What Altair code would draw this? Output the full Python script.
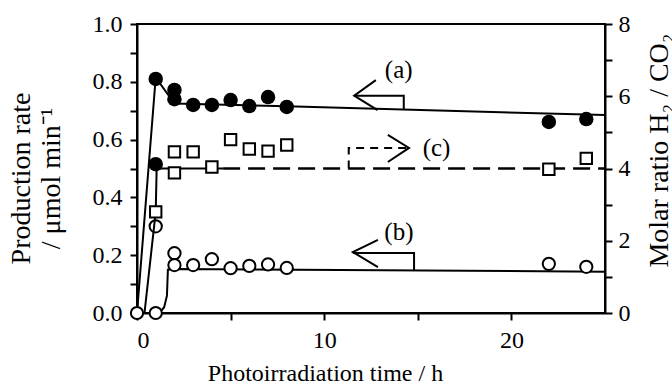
import altair as alt
import pandas as pd

# ---------------- data ----------------
# (a) filled circles: production rate (umol/min), left axis
a_x = [1, 1, 2, 2, 3, 4, 5, 6, 7, 8, 22, 24]
a_y = [0.81, 0.515, 0.772, 0.74, 0.72, 0.72, 0.737, 0.716, 0.747, 0.713, 0.661, 0.671]
# (a) fitted line
a_lx = [0, 1, 2, 8, 25]
a_ly = [0.0, 0.815, 0.725, 0.715, 0.685]

# (b) open circles: production rate, left axis
b_x = [0, 1, 1, 2, 2, 3, 4, 5, 6, 7, 8, 22, 24]
b_y = [0.0, 0.0, 0.30, 0.207, 0.166, 0.166, 0.186, 0.155, 0.163, 0.168, 0.156, 0.17, 0.16]
# (b) fitted line
b_lx = [0, 1.2, 1.45, 1.6, 1.65, 2, 25]
b_ly = [0.0, 0.0, 0.02, 0.06, 0.15, 0.152, 0.143]

# (c) open squares: molar ratio H2/CO2, right axis
c_x = [1, 2, 2, 3, 4, 5, 6, 7, 8, 22, 24]
c_y = [2.8, 4.46, 3.88, 4.46, 4.04, 4.8, 4.54, 4.48, 4.65, 3.98, 4.28]
# (c) line: solid start, dashed tail
c_lx_solid = [0.4, 1, 1.05, 4.6]
c_ly_solid = [0.0, 2.8, 4.0, 4.0]
c_lx_dash = [4.6, 25]
c_ly_dash = [4.0, 4.0]

# annotation arrows (data units)
arrow_a = {"x": [12.76, 11.6, 12.85, None, 11.6, 14.25, 14.25],
           "y": [0.806, 0.752, 0.702, None, 0.752, 0.752, 0.705],
           "seg": [0, 0, 0, None, 1, 1, 1]}
arrow_b = {"x": [12.87, 11.53, 12.87, None, 11.53, 14.8, 14.8],
           "y": [0.253, 0.211, 0.159, None, 0.208, 0.208, 0.149],
           "seg": [0, 0, 0, None, 1, 1, 1]}
arrow_c_solid = {"x": [13.4, 14.53, 13.4], "y": [4.93, 4.57, 4.18]}
arrow_c_dash = {"x": [11.31, 11.31, 14.4], "y": [4.0, 4.57, 4.57]}

labels_left = {"x": [13.98, 13.99], "y": [0.841, 0.280], "t": ["(a)", "(b)"]}
labels_right = {"x": [16.0], "y": [4.57], "t": ["(c)"]}

x_ticks = [0, 5, 10, 15, 20]
left_ticks = [0, 0.1, 0.2, 0.3, 0.4, 0.5, 0.6, 0.7, 0.8, 0.9, 1.0]
right_ticks = [0, 1, 2, 3, 4, 5, 6, 7, 8]

# ---------------- styling ----------------
FONT = "Liberation Serif"

X_AXIS = alt.Axis(values=x_ticks, labelExpr="datum.value % 10 == 0 ? datum.value : ''",
                  title="Photoirradiation time / h", grid=False, domainColor="black",
                  domainWidth=2, tickColor="black", tickWidth=2, tickSize=7,
                  labelFont=FONT, labelFontSize=24, labelColor="black", labelPadding=8,
                  titleFont=FONT, titleFontSize=24, titleFontWeight="normal",
                  titleColor="black", titleX=188, titleY=60, titleAlign="center",
                  titleBaseline="middle")
LEFT_AXIS = alt.Axis(values=left_ticks,
                     labelExpr="round(datum.value*10) % 2 == 0 ? format(datum.value, '.1f') : ''",
                     title=["Production rate", "/ \u03bcmol min\u207b\u00b9"], grid=False,
                     domainColor="black", domainWidth=2, tickColor="black", tickWidth=2,
                     tickSize=7, labelFont=FONT, labelFontSize=24, labelColor="black",
                     labelPadding=8, titleFont=FONT, titleFontSize=28,
                     titleFontWeight="normal", titleColor="black", titleAngle=270,
                     titleX=-116, titleY=154, titleAlign="center", titleBaseline="middle",
                     titleLineHeight=30)
RIGHT_AXIS = alt.Axis(orient="right", values=right_ticks,
                      labelExpr="datum.value % 2 == 0 ? datum.value : ''",
                      title="Molar ratio H\u2082 / CO\u2082", grid=False, domainColor="black",
                      domainWidth=2, tickColor="black", tickWidth=2, tickSize=7,
                      labelFont=FONT, labelFontSize=24, labelColor="black", labelPadding=6,
                      titleFont=FONT, titleFontSize=28, titleFontWeight="normal",
                      titleColor="black", titleAngle=270, titleX=54, titleY=126,
                      titleAlign="center", titleBaseline="middle")

XS = alt.Scale(domain=[0, 25], nice=False, zero=False)
LS = alt.Scale(domain=[0, 1], nice=False, zero=False)
RS = alt.Scale(domain=[0, 8], nice=False, zero=False)


def X():
    return alt.X("x:Q", scale=XS, axis=X_AXIS)


def YL():
    return alt.Y("y:Q", scale=LS, axis=LEFT_AXIS)


def YR():
    return alt.Y("y:Q", scale=RS, axis=RIGHT_AXIS)


def df(xs, ys):
    return pd.DataFrame({"x": xs, "y": ys})


def seg_df(d):
    rows = []
    order = 0
    for x, y, s in zip(d["x"], d["y"], d["seg"]):
        if x is None:
            continue
        rows.append({"x": x, "y": y, "seg": s, "o": order})
        order += 1
    return pd.DataFrame(rows)


# ---------------- left (production rate) layers ----------------
a_line = alt.Chart(df(a_lx, a_ly)).mark_line(color="black", strokeWidth=2).encode(x=X(), y=YL())
b_line = alt.Chart(df(b_lx, b_ly)).mark_line(color="black", strokeWidth=2).encode(x=X(), y=YL())
a_pts = alt.Chart(df(a_x, a_y)).mark_point(shape="circle", filled=True, color="black",
                                           size=210, opacity=1).encode(x=X(), y=YL())
b_pts = alt.Chart(df(b_x, b_y)).mark_point(shape="circle", filled=True, fill="white",
                                           stroke="black", strokeWidth=2, size=150,
                                           opacity=1).encode(x=X(), y=YL())
arr_a = alt.Chart(seg_df(arrow_a)).mark_line(color="black", strokeWidth=2).encode(
    x=X(), y=YL(), detail="seg:N", order="o:Q")
arr_b = alt.Chart(seg_df(arrow_b)).mark_line(color="black", strokeWidth=2).encode(
    x=X(), y=YL(), detail="seg:N", order="o:Q")
txt_l = alt.Chart(pd.DataFrame(labels_left)).mark_text(font=FONT, fontSize=25,
                                                       color="black").encode(
    x=X(), y=YL(), text="t:N")

left = alt.layer(a_line, b_line, arr_a, arr_b, a_pts, b_pts, txt_l)

# ---------------- right (molar ratio) layers ----------------
c_solid = alt.Chart(df(c_lx_solid, c_ly_solid)).mark_line(color="black", strokeWidth=2).encode(
    x=X(), y=YR())
c_dash = alt.Chart(df(c_lx_dash, c_ly_dash)).mark_line(color="black", strokeWidth=2.5,
                                                       strokeDash=[17, 8]).encode(x=X(), y=YR())
c_pts = alt.Chart(df(c_x, c_y)).mark_point(shape="square", filled=True, fill="white",
                                           stroke="black", strokeWidth=2, size=130,
                                           opacity=1).encode(x=X(), y=YR())
arr_c1 = alt.Chart(pd.DataFrame(arrow_c_solid)).mark_line(color="black", strokeWidth=2).encode(
    x=X(), y=YR(), order=alt.Order("y:Q", sort="descending"))
arr_c2 = alt.Chart(df(arrow_c_dash["x"], arrow_c_dash["y"]).assign(o=[0, 1, 2])).mark_line(
    color="black", strokeWidth=2, strokeDash=[8, 6]).encode(x=X(), y=YR(), order="o:Q")
txt_r = alt.Chart(pd.DataFrame(labels_right)).mark_text(font=FONT, fontSize=25,
                                                        color="black").encode(
    x=X(), y=YR(), text="t:N")

right = alt.layer(c_solid, c_dash, arr_c1, arr_c2, c_pts, txt_r)

chart = alt.layer(left, right).resolve_scale(y="independent").properties(
    width=468, height=289,
    autosize=alt.AutoSizeParams(type="none"),
    padding={"left": 137, "top": 24, "right": 67, "bottom": 75},
    background="white",
).configure_view(stroke="black", strokeWidth=2)

chart.save("out.html", embed_options={"renderer": "svg", "actions": False})
